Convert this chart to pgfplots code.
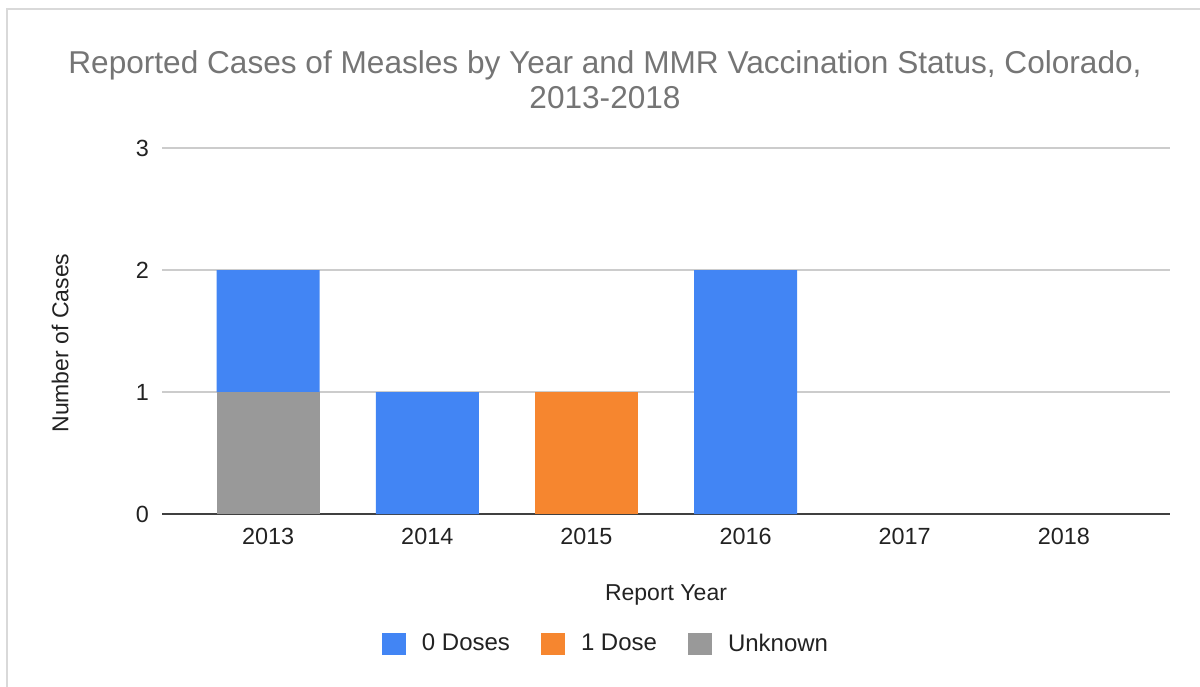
\documentclass[border=0pt]{standalone}
\usepackage{fontspec}
\setmainfont{Liberation Sans}
\usepackage{pgfplots}
\pgfplotsset{compat=1.18}
\definecolor{cBlue}{HTML}{4285F4}
\definecolor{cOrange}{HTML}{F6862F}
\definecolor{cGray}{HTML}{999999}
\definecolor{cGrid}{HTML}{CCCCCC}
\definecolor{cTitle}{HTML}{757575}
\definecolor{cText}{HTML}{222222}
\definecolor{cFrame}{HTML}{D9D9D9}
\begin{document}
\begin{tikzpicture}
\useasboundingbox (0,0) rectangle (600pt,343pt);
\draw[cFrame, line width=0.8pt] (3.5pt,-10pt) -- (3.5pt,338.5pt) -- (610pt,338.5pt);
\begin{axis}[
  at={(81pt,86pt)}, anchor=south west,
  scale only axis, width=504pt, height=183pt,
  ybar stacked, bar width=51.5pt,
  xmin=-0.6667, xmax=5.6667, ymin=0, ymax=3,
  xtick={0,1,2,3,4,5}, xticklabels={2013,2014,2015,2016,2017,2018},
  ytick={0,1,2,3},
  /pgf/number format/assume math mode=true,
  major tick length=0pt,
  axis x line*=bottom, axis y line*=left,
  x axis line style={draw=black!75, line width=1pt},
  y axis line style={draw=none},
  ymajorgrids, grid style={cGrid, line width=0.6pt},
  tick label style={font=\fontsize{11.7}{14}\selectfont, text=cText},
  xticklabel style={yshift=-3.5pt},
  yticklabel style={xshift=-3pt},
  ylabel={Number of Cases},
  xlabel={Report Year},
  label style={font=\fontsize{11.5}{14}\selectfont, text=cText},
  xlabel style={at={(axis description cs:0.5,-0.221)}, anchor=center},
  ylabel style={at={(axis description cs:-0.101,0.467)}, anchor=center},
  title={Reported Cases of Measles by Year and MMR Vaccination Status, Colorado,\\2013-2018},
  title style={at={(axis description cs:0.4395,1.155)}, anchor=center, align=center,
    font=\fontsize{15.8}{17.5}\selectfont, text=cTitle},
  legend columns=3,
  legend style={at={(axis description cs:0.4415,-0.355)}, anchor=center, draw=none,
    font=\fontsize{12}{14}\selectfont, text=cText,
    /tikz/every odd column/.append style={column sep=6pt},
    /tikz/every even column/.append style={column sep=13.5pt}},
  legend cell align=left,
  legend image code/.code={\fill[#1, draw=none] (0pt,-5.5pt) rectangle (12pt,5.5pt);},
  clip=false,
]
\addplot[fill=cGray, draw=none, forget plot] coordinates {(0,1) (1,0) (2,0) (3,0) (4,0) (5,0)};
\addplot[fill=cBlue, draw=none, forget plot] coordinates {(0,1) (1,1) (2,0) (3,2) (4,0) (5,0)};
\addplot[fill=cOrange, draw=none, forget plot] coordinates {(0,0) (1,0) (2,1) (3,0) (4,0) (5,0)};
\addlegendimage{fill=cBlue, draw=none}
\addlegendentry{0 Doses}
\addlegendimage{fill=cOrange, draw=none}
\addlegendentry{1 Dose}
\addlegendimage{fill=cGray, draw=none}
\addlegendentry{Unknown}
\end{axis}
\end{tikzpicture}
\end{document}
